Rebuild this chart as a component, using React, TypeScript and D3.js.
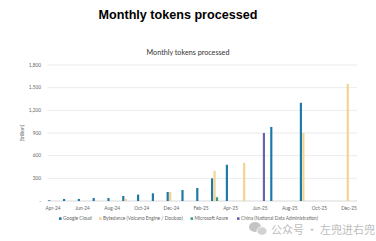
import React from "react";
import * as d3 from "d3";

const months = ["Apr-24","May-24","Jun-24","Jul-24","Aug-24","Sep-24","Oct-24","Nov-24","Dec-24","Jan-25","Feb-25","Mar-25","Apr-25","May-25","Jun-25","Jul-25","Aug-25","Sep-25","Oct-25","Nov-25","Dec-25"];
const tickLabels = ["Apr-24","Jun-24","Aug-24","Oct-24","Dec-24","Feb-25","Apr-25","Jun-25","Aug-25","Oct-25","Dec-25"];
const seriesNames = ["Google Cloud","Bytedance (Volcano Engine / Doubao)","Microsoft Azure","China (National Data Administration)"];
const seriesColors = ["#1f79a6","#f2d391","#3a9a86","#6b63aa"];
const googleCloud = [10,27,27,40,40,66,85,102,119,146,172,300,480,null,null,980,null,1300,null,null,null];
const bytedance = [null,null,null,null,null,28,null,null,119,null,null,400,null,505,null,null,null,900,null,null,1550];
const microsoftAzure = [null,null,null,null,null,null,null,null,null,null,null,50,null,null,null,null,null,null,null,null,null];
const chinaNDA = [null,null,null,null,null,null,null,null,null,null,null,null,null,null,900,null,null,null,null,null,null];
const yTicks = [0,300,600,900,1200,1500,1800];

export default function App() {
  const W = 376, H = 241;
  const series = [googleCloud, bytedance, microsoftAzure, chinaNDA];
  const x = d3.scaleBand<string>().domain(months).range([45.6, 356.4]).padding(0);
  const inner = d3.scaleBand<number>().domain([0,1,2,3]).range([-4.8, 4.8]).paddingInner(0.12);
  const y = d3.scaleLinear().domain([0, 1800]).range([201, 65]);
  const fmt = d3.format(",");
  const font = "Lato, 'Open Sans', sans-serif";
  const legendX = [59, 99, 190.5, 237];
  return (
    <svg width={W} height={H} style={{ position: "absolute", left: 0, top: 0, background: "#fff" }}>
      <text x={178} y={18.5} textAnchor="middle" fontFamily="'Liberation Sans', Arial, sans-serif" fontWeight="bold" fontSize={12.6} fill="#000">Monthly tokens processed</text>
      <text x={188} y={54.5} textAnchor="middle" fontFamily={font} fontSize={7.2} fill="#333">Monthly tokens processed</text>
      {yTicks.map(t => (
        <g key={t}>
          <line x1={47.5} x2={357} y1={y(t)} y2={y(t)} stroke={t === 0 ? "#cfcfcf" : "#e6e6e6"} strokeWidth={0.8} />
          <text x={41} y={y(t) + 1.7} textAnchor="end" fontFamily={font} fontSize={4.8} fill="#666">{t === 0 ? "-" : fmt(t)}</text>
        </g>
      ))}
      <text transform={`translate(23.5,133) rotate(-90)`} textAnchor="middle" fontFamily={font} fontSize={4.8} fill="#666">(trillion)</text>
      {series.map((vals, si) => vals.map((v, i) => v == null ? null : (
        <rect key={`${si}-${i}`} x={(x(months[i]) as number) + x.bandwidth() / 2 + (inner(si) as number)} width={inner.bandwidth()} y={y(v)} height={y(0) - y(v)} fill={seriesColors[si]} />
      )))}
      {tickLabels.map(l => (
        <text key={l} x={(x(l) as number) + x.bandwidth() / 2} y={209.5} textAnchor="middle" fontFamily={font} fontSize={4.8} fill="#666">{l}</text>
      ))}
      {seriesNames.map((n, i) => (
        <g key={n}>
          <rect x={legendX[i]} y={217.3} width={2.6} height={2.6} fill={seriesColors[i]} />
          <text x={legendX[i] + 4} y={220} fontFamily={font} fontSize={4.8} fill="#666">{n}</text>
        </g>
      ))}
      <g fill="#c4c4c4">
        <ellipse cx={255} cy={227} rx={6} ry={5} />
        <ellipse cx={262} cy={231} rx={5} ry={4.2} fill="#d2d2d2" stroke="#fff" strokeWidth={0.8} />
      </g>
      <text x={271} y={234} fontFamily="'Noto Sans CJK SC', sans-serif" fontSize={11} fill="#bdbdbd">公众号 · 左兜进右兜</text>
    </svg>
  );
}
